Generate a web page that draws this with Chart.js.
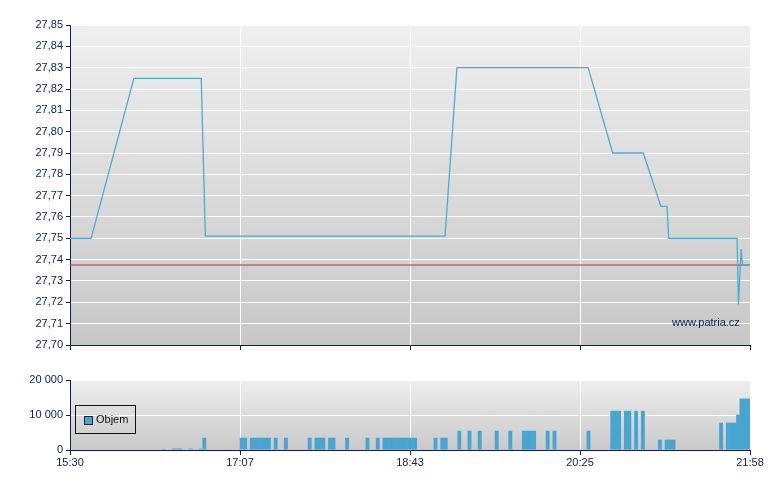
<!DOCTYPE html>
<html>
<head>
<meta charset="utf-8">
<title>Kurz a objem</title>
<script src="https://cdn.jsdelivr.net/npm/chart.js@4.4.0/dist/chart.umd.min.js"></script>
<style>
	html, body { margin:0; padding:0; background:#fff; }
	#wrap { position:relative; width:780px; height:490px; font-family:"Liberation Sans", Arial, sans-serif; }
	#priceBox { position:absolute; left:0; top:0; width:780px; height:360px; }
	#volBox { position:absolute; left:0; top:360px; width:780px; height:130px; }
	.legend { position:absolute; left:75px; top:405px; width:59px; height:27px; border:1px solid #111; font-size:11px; color:#111; }
	.legend .sw { position:absolute; left:8px; top:10px; width:7px; height:7px; border:1px solid #1b2a3a; background:#47a5d0; }
	.legend .txt { position:absolute; left:20px; top:7px; }
	.wm { position:absolute; left:672px; top:316px; font-size:11px; color:#0c2150; }
</style>
</head>
<body>
<div id="wrap">
	<div id="priceBox"><canvas id="priceChart"></canvas></div>
	<div id="volBox"><canvas id="volChart"></canvas></div>
	<div class="legend"><span class="sw"></span><span class="txt" id="volLegendText"></span></div>
	<div class="wm">www.patria.cz</div>
</div>
<script>
// x axis runs 0..200 (trading slots), ticks every 50
const tickLabels = ['15:30', '17:07', '18:43', '20:25', '21:58'];

const priceX = [0, 6.2, 18.8, 38.6, 39.8, 110.3, 113.8, 152.4, 159.6, 168.6, 173.8, 175.6, 176.1, 196.2, 196.6, 197.4, 197.8, 200];
const priceY = [27.75, 27.75, 27.825, 27.825, 27.751, 27.751, 27.83, 27.83, 27.79, 27.79, 27.765, 27.765, 27.75, 27.75, 27.719, 27.745, 27.7375, 27.7375];
const prevClose = 27.7375;

const volSlot = [27, 30, 31, 32, 35, 38, 39, 50, 51, 53, 54, 55, 56, 57, 58, 60, 63,
	70, 72, 73, 74, 76, 77, 81, 87, 90, 92, 93, 94, 95, 96, 97, 98, 99, 100, 101, 107, 109, 110,
	114, 117, 120, 125, 129, 133, 134, 135, 136, 140, 142, 152,
	159, 160, 161, 163, 164, 166, 168, 173, 175, 176, 177,
	191, 193, 194, 195, 196, 197, 198, 199];
const volValue = [300, 400, 400, 400, 400, 400, 3500, 3500, 3500, 3500, 3500, 3500, 3500, 3500, 3500, 3500, 3500,
	3500, 3500, 3500, 3500, 3500, 3500, 3500, 3500, 3500, 3500, 3500, 3500, 3500, 3500, 3500, 3500, 3500, 3500, 3500, 3500, 3500, 3500,
	5500, 5500, 5500, 5500, 5500, 5500, 5500, 5500, 5500, 5500, 5500, 5500,
	11200, 11200, 11200, 11200, 11200, 11200, 11200, 2950, 2950, 2950, 2950,
	7800, 7800, 7800, 7800, 10100, 14700, 14700, 14700];

(function(){
	const NAVY = '#0c2150';
	const FONT = { family: '"Liberation Sans", Arial, sans-serif', size: 11 };

	const bgPlugin = {
		id: 'bg',
		beforeDraw(chart, args, opts){
			const a = chart.chartArea;
			const ctx = chart.ctx;
			const g = ctx.createLinearGradient(0, a.top, 0, a.bottom);
			g.addColorStop(0, opts.top);
			g.addColorStop(1, opts.bottom);
			ctx.save();
			ctx.fillStyle = g;
			ctx.fillRect(a.left, a.top, a.right - a.left, a.bottom - a.top);
			ctx.restore();
		}
	};

	function xScale(showLabels, h){
		return {
			type: 'linear', min: 0, max: 200, offset: false,
			ticks: {
				display: showLabels, stepSize: 50, color: NAVY, font: FONT, padding: 1, maxRotation: 0,
				callback: v => tickLabels[Math.round(v / 50)]
			},
			grid: {
				offset: false,
				color: c => (c.index === 0 || c.index === tickLabels.length - 1) ? 'rgba(0,0,0,0)' : '#ffffff',
				tickColor: NAVY, tickLength: 5, lineWidth: 1
			},
			border: { color: NAVY, width: 1 },
			afterFit: s => { s.height = h; }
		};
	}

	function yGrid(){
		return { color: '#ffffff', tickColor: NAVY, tickLength: 4, lineWidth: 1 };
	}

	function createPriceChart(ctx){
		const pts = priceX.map((x, i) => ({ x: x, y: priceY[i] }));
		return new Chart(ctx, {
			type: 'line',
			data: {
				datasets: [
					{ label: 'Kurz', data: pts, borderColor: '#4fa9d5', borderWidth: 1.3, pointRadius: 0, tension: 0, fill: false },
					{ label: 'Předchozí závěr', data: [{ x: 0, y: prevClose }, { x: 200, y: prevClose }], borderColor: '#a03c3c', borderWidth: 1, pointRadius: 0, fill: false }
				]
			},
			options: {
				responsive: true, maintainAspectRatio: false, animation: false,
				layout: { padding: { left: 0, right: 30, top: 25, bottom: 0 } },
				scales: {
					x: xScale(false, 15),
					y: {
						min: 27.70, max: 27.85,
						ticks: { stepSize: 0.01, color: NAVY, font: FONT, padding: 3, callback: v => v.toFixed(2).replace('.', ',') },
						grid: yGrid(),
						border: { color: NAVY, width: 1 },
						afterFit: s => { s.width = 70; }
					}
				},
				plugins: { legend: { display: false }, tooltip: { enabled: false }, bg: { top: '#efefef', bottom: '#c7c7c7' } }
			},
			plugins: [bgPlugin]
		});
	}

	function createVolChart(ctx){
		const pts = volSlot.map((s, i) => ({ x: s + 0.5, y: volValue[i] }));
		return new Chart(ctx, {
			type: 'bar',
			data: {
				datasets: [
					// slightly over 1 so neighbouring slots merge without seams
					{ label: 'Objem', data: pts, backgroundColor: '#47a5d0', borderWidth: 0, barPercentage: 1.15, categoryPercentage: 1 }
				]
			},
			options: {
				responsive: true, maintainAspectRatio: false, animation: false,
				layout: { padding: { left: 0, right: 30, top: 20, bottom: 0 } },
				scales: {
					x: xScale(true, 40),
					y: {
						min: 0, max: 20000,
						ticks: { stepSize: 10000, color: NAVY, font: FONT, padding: 3, callback: v => String(v).replace(/\B(?=(\d{3})+(?!\d))/g, ' ') },
						grid: yGrid(),
						border: { color: NAVY, width: 1 },
						afterFit: s => { s.width = 70; }
					}
				},
				plugins: { legend: { display: false }, tooltip: { enabled: false }, bg: { top: '#eeeeee', bottom: '#c9c9c9' } }
			},
			plugins: [bgPlugin]
		});
	}

	const priceChart = createPriceChart(document.getElementById('priceChart').getContext('2d'));
	const volChart = createVolChart(document.getElementById('volChart').getContext('2d'));
	document.getElementById('volLegendText').textContent = volChart.data.datasets[0].label;
})();
</script>
</body>
</html>
